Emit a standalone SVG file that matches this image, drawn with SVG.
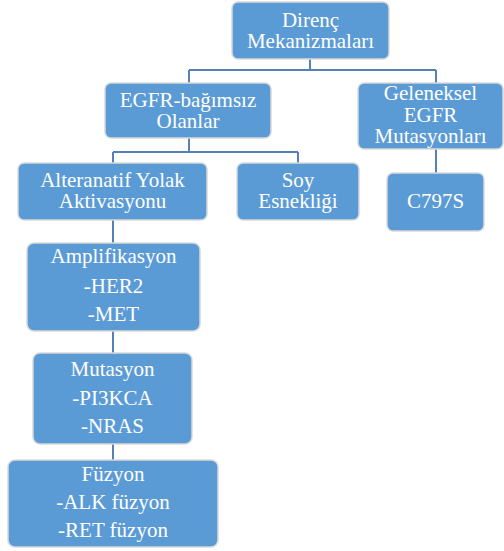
<svg xmlns="http://www.w3.org/2000/svg" width="504" height="551" viewBox="0 0 504 551">
<style>
.box{fill:#5b9bd5;stroke:#d9d9d9;stroke-width:1.5}
.t{fill:#ffffff;text-anchor:middle}
.c{fill:none;stroke:#5581b6;stroke-width:2}
</style>
<rect width="504" height="551" fill="#ffffff"/>
<g id="connectors">
<path class="c" d="M310 59 V70 M189 70 H436 M189 70 V83 M436 70 V83"/>
<path class="c" d="M189 138 V152 M113 152 H298 M113 152 V163 M298 152 V163"/>
<path class="c" d="M436 149 V173"/>
<path class="c" d="M113 220 V243 M113 331 V353 M113 444 V460"/>
</g>
<g id="root">
<rect class="box" x="232" y="2" width="157" height="57" rx="6"/>
<text class="t" font-family="Liberation Serif" font-size="21" x="310.5" y="26.5">Direnç</text>
<text class="t" font-family="Liberation Serif" font-size="21" x="310.5" y="47.5">Mekanizmaları</text>
</g>
<g id="egfr-bagimsiz">
<rect class="box" x="105" y="83" width="166" height="55" rx="6"/>
<text class="t" font-family="Liberation Serif" font-size="21" x="188" y="106.5">EGFR-bağımsız</text>
<text class="t" font-family="Liberation Serif" font-size="21" x="188" y="127.5">Olanlar</text>
</g>
<g id="geleneksel">
<rect class="box" x="358" y="83" width="145" height="66" rx="6"/>
<text class="t" font-family="Liberation Serif" font-size="21" x="430.5" y="100">Geleneksel</text>
<text class="t" font-family="Liberation Serif" font-size="21" x="430.5" y="122">EGFR</text>
<text class="t" font-family="Liberation Serif" font-size="21" x="430.5" y="143">Mutasyonları</text>
</g>
<g id="alternatif">
<rect class="box" x="18" y="163" width="189" height="57" rx="6"/>
<text class="t" font-family="Liberation Serif" font-size="21" x="112.5" y="186.5">Alteranatif Yolak</text>
<text class="t" font-family="Liberation Serif" font-size="21" x="112.5" y="207.5">Aktivasyonu</text>
</g>
<g id="soy">
<rect class="box" x="237" y="163" width="122" height="57" rx="6"/>
<text class="t" font-family="Liberation Serif" font-size="21" x="298" y="186.5">Soy</text>
<text class="t" font-family="Liberation Serif" font-size="21" x="298" y="207.5">Esnekliği</text>
</g>
<g id="c797s">
<rect class="box" x="387" y="173" width="97" height="58" rx="6"/>
<text class="t" font-family="Liberation Serif" font-size="21" x="435.5" y="208">C797S</text>
</g>
<g id="amplifikasyon">
<rect class="box" x="27" y="243" width="173" height="88" rx="7"/>
<text class="t" font-family="Liberation Serif" font-size="21" x="113.5" y="263">Amplifikasyon</text>
<text class="t" font-family="Liberation Serif" font-size="21" x="113.5" y="293">-HER2</text>
<text class="t" font-family="Liberation Serif" font-size="21" x="113.5" y="321">-MET</text>
</g>
<g id="mutasyon">
<rect class="box" x="33" y="353" width="159" height="91" rx="7"/>
<text class="t" font-family="Liberation Serif" font-size="21" x="112.5" y="376">Mutasyon</text>
<text class="t" font-family="Liberation Serif" font-size="21" x="112.5" y="405">-PI3KCA</text>
<text class="t" font-family="Liberation Serif" font-size="21" x="112.5" y="433">-NRAS</text>
</g>
<g id="fuzyon">
<rect class="box" x="8" y="460" width="210" height="87" rx="7"/>
<text class="t" font-family="Liberation Serif" font-size="21" x="113" y="481">Füzyon</text>
<text class="t" font-family="Liberation Serif" font-size="21" x="113" y="509">-ALK füzyon</text>
<text class="t" font-family="Liberation Serif" font-size="21" x="113" y="537">-RET füzyon</text>
</g>
</svg>
